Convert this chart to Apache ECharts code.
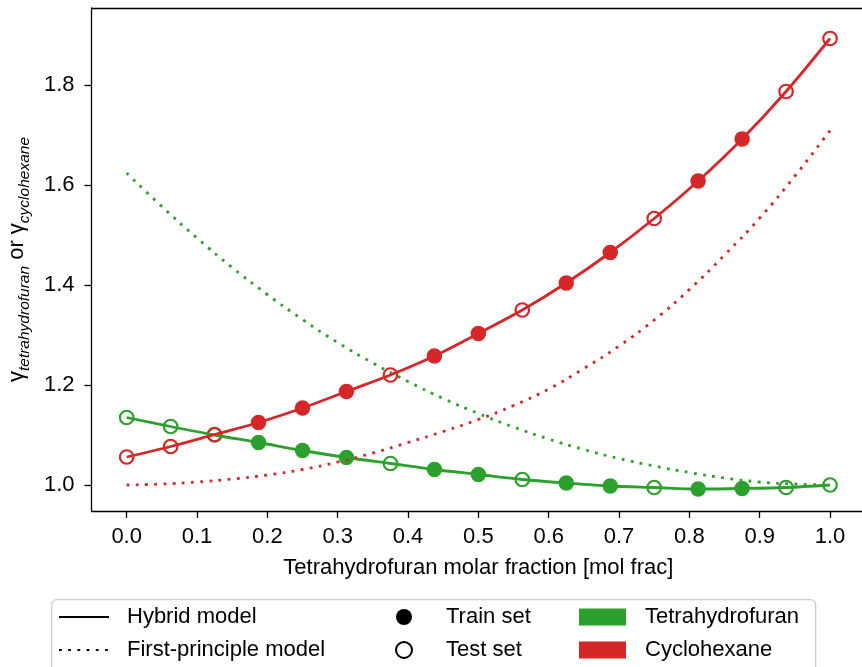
<!DOCTYPE html>
<html>
<head>
<meta charset="utf-8">
<script src="https://cdn.jsdelivr.net/npm/echarts@6.0.0/dist/echarts.min.js"></script>
<style>
html, body { margin: 0; padding: 0; background: #fff; }
#chart { width: 862px; height: 667px; }
</style>
</head>
<body>
<div id="chart"></div>
<script>
// sample points (THF molar fraction)
const xs = [0, 0.0625, 0.125, 0.1875, 0.25, 0.3125, 0.375, 0.4375, 0.5, 0.5625, 0.625, 0.6875, 0.75, 0.8125, 0.875, 0.9375, 1.0]
// 1 = train set, 0 = test set
const isTrain = [0, 0, 0, 1, 1, 1, 0, 1, 1, 0, 1, 1, 0, 1, 1, 0, 0]
// hybrid model
const thfHybrid = [1.135, 1.117, 1.100, 1.085, 1.069, 1.055, 1.043, 1.031, 1.021, 1.011, 1.004, 0.998, 0.995, 0.992, 0.993, 0.995, 1.000]
const cycHybrid = [1.056, 1.077, 1.101, 1.125, 1.154, 1.187, 1.220, 1.258, 1.303, 1.350, 1.404, 1.465, 1.533, 1.608, 1.692, 1.787, 1.893]
// first-principle model
const fpX = [0, 0.05, 0.1, 0.15, 0.2, 0.25, 0.3, 0.35, 0.4, 0.45, 0.5, 0.55, 0.6, 0.65, 0.7, 0.75, 0.8, 0.85, 0.9, 0.95, 1.0]
const thfFirst = [1.624, 1.557, 1.494, 1.435, 1.381, 1.331, 1.285, 1.244, 1.207, 1.173, 1.143, 1.116, 1.092, 1.071, 1.053, 1.038, 1.025, 1.014, 1.006, 1.002, 1.000]
const cycFirst = [1.000, 1.002, 1.006, 1.012, 1.020, 1.031, 1.046, 1.064, 1.085, 1.107, 1.131, 1.159, 1.192, 1.233, 1.278, 1.330, 1.391, 1.460, 1.534, 1.618, 1.709]
// tick labels
const xTicks = [0, 0.1, 0.2, 0.3, 0.4, 0.5, 0.6, 0.7, 0.8, 0.9, 1.0]
const yTicks = [1.0, 1.2, 1.4, 1.6, 1.8]

const GREEN = '#2ca02c'
const RED = '#d62728'
const FONT = 'Liberation Sans, Arial, sans-serif'
const DOT = [2.8, 6.4]
const FRAME = { color: '#000', width: 1.3 }

const pairs = (x, y) => x.map((v, i) => [v, y[i]])
const pick = (y, flag) => xs.map((v, i) => [v, y[i]]).filter((p, i) => isTrain[i] === flag)

function compound(name, color, hybrid, first) {
    return [
        { name: name + ' hybrid', type: 'line', data: pairs(xs, hybrid), symbol: 'none', smooth: 0.3,
          lineStyle: { color: color, width: 2.8 } },
        { name: name + ' first', type: 'line', data: pairs(fpX, first), symbol: 'none', smooth: true,
          lineStyle: { color: color, width: 2.8, type: DOT, cap: 'butt' } },
        { name: name + ' train', type: 'scatter', data: pick(hybrid, 1), symbol: 'circle', symbolSize: 15.5,
          itemStyle: { color: color, opacity: 1 } },
        { name: name + ' test', type: 'scatter', data: pick(hybrid, 0), symbol: 'circle', symbolSize: 13.5,
          itemStyle: { color: 'rgba(0,0,0,0)', borderColor: color, borderWidth: 2.2, opacity: 1 } }
    ]
}

// empty series only used for legend entries
const legendSeries = [
    { name: 'Hybrid model', type: 'line', data: [], symbol: 'none', lineStyle: { color: '#000', width: 2.8 }, itemStyle: { color: '#000' } },
    { name: 'First-principle model', type: 'line', data: [], symbol: 'none', lineStyle: { color: '#000', width: 2.8, type: DOT }, itemStyle: { color: '#000' } },
    { name: 'Train set', type: 'scatter', data: [], itemStyle: { color: '#000', opacity: 1 } },
    { name: 'Test set', type: 'scatter', data: [], itemStyle: { color: '#fff', borderColor: '#000', borderWidth: 2.2, opacity: 1 } },
    { name: 'Tetrahydrofuran', type: 'scatter', data: [], itemStyle: { color: GREEN, opacity: 1 } },
    { name: 'Cyclohexane', type: 'scatter', data: [], itemStyle: { color: RED, opacity: 1 } }
]

const legendText = (pad) => ({ color: '#000', fontSize: 22, fontFamily: FONT, padding: [0, 0, 0, pad] })
const noMark = { opacity: 0 }

const chart = echarts.init(document.getElementById('chart'), null, { renderer: 'canvas' })
const option = {
    animation: false,
    textStyle: { fontFamily: FONT },
    // right edge of the frame falls outside the canvas, so only left/top/bottom lines are drawn
    grid: { left: 91.5, top: 8, width: 773.7, height: 503, containLabel: false, outerBoundsMode: 'none', show: false },
    xAxis: [{
        type: 'value', min: -0.05, max: 1.05,
        name: 'Tetrahydrofuran molar fraction [mol frac]',
        nameLocation: 'middle', nameGap: 46,
        nameTextStyle: { color: '#000', fontSize: 22, fontFamily: FONT },
        axisLine: { show: true, onZero: false, lineStyle: FRAME },
        splitLine: { show: false },
        axisTick: { show: true, length: 7, customValues: xTicks, lineStyle: FRAME },
        axisLabel: { customValues: xTicks, margin: 15, color: '#000', fontSize: 22, fontFamily: FONT,
                     formatter: v => v.toFixed(1) }
    }, {
        type: 'value', position: 'top', min: -0.05, max: 1.05,
        axisLine: { show: true, onZero: false, lineStyle: FRAME },
        axisTick: { show: false }, axisLabel: { show: false }, splitLine: { show: false }
    }],
    yAxis: {
        type: 'value', min: 0.948, max: 1.954,
        name: '{g|γ}{s|tetrahydrofuran}{g| or }{g|γ}{s|cyclohexane}',
        nameLocation: 'middle', nameGap: 58, nameRotate: 90,
        nameTextStyle: {
            color: '#000', fontSize: 22, fontFamily: FONT,
            rich: {
                g: { fontSize: 22, fontFamily: FONT, color: '#000', lineHeight: 32 },
                s: { fontSize: 15.5, fontStyle: 'italic', fontFamily: FONT, color: '#000', lineHeight: 16, padding: [16, 0, 0, 0] }
            }
        },
        axisLine: { show: true, onZero: false, lineStyle: FRAME },
        splitLine: { show: false },
        axisTick: { show: true, length: 7, customValues: yTicks, lineStyle: FRAME },
        axisLabel: { customValues: yTicks, margin: 17, color: '#000', fontSize: 22, fontFamily: FONT,
                     formatter: v => v.toFixed(1) }
    },
    graphic: [{
        type: 'rect', left: 51, top: 599, z: 0,
        shape: { width: 764, height: 100, r: 5 },
        style: { fill: 'rgba(255,255,255,0.8)', stroke: '#cccccc', lineWidth: 1.3 }
    }],
    legend: [
        { data: [{ name: 'Hybrid model', itemStyle: noMark }, { name: 'First-principle model', itemStyle: noMark }],
          orient: 'vertical', left: 58, top: 606, padding: 0,
          itemWidth: 50, itemHeight: 17, itemGap: 11, selectedMode: false, textStyle: legendText(13) },
        { data: [{ name: 'Train set', icon: 'circle' }, { name: 'Test set', icon: 'circle' }], orient: 'vertical', left: 395, top: 606, padding: 0,
          itemWidth: 16, itemHeight: 16, itemGap: 11, selectedMode: false, textStyle: legendText(29) },
        { data: [{ name: 'Tetrahydrofuran', icon: 'rect' }, { name: 'Cyclohexane', icon: 'rect' }], orient: 'vertical', left: 579, top: 606, padding: 0,
          itemWidth: 47, itemHeight: 17, itemGap: 11, selectedMode: false, textStyle: legendText(14) }
    ],
    series: [].concat(compound('THF', GREEN, thfHybrid, thfFirst), compound('CYC', RED, cycHybrid, cycFirst), legendSeries)
}
chart.setOption(option)
</script>
</body>
</html>
